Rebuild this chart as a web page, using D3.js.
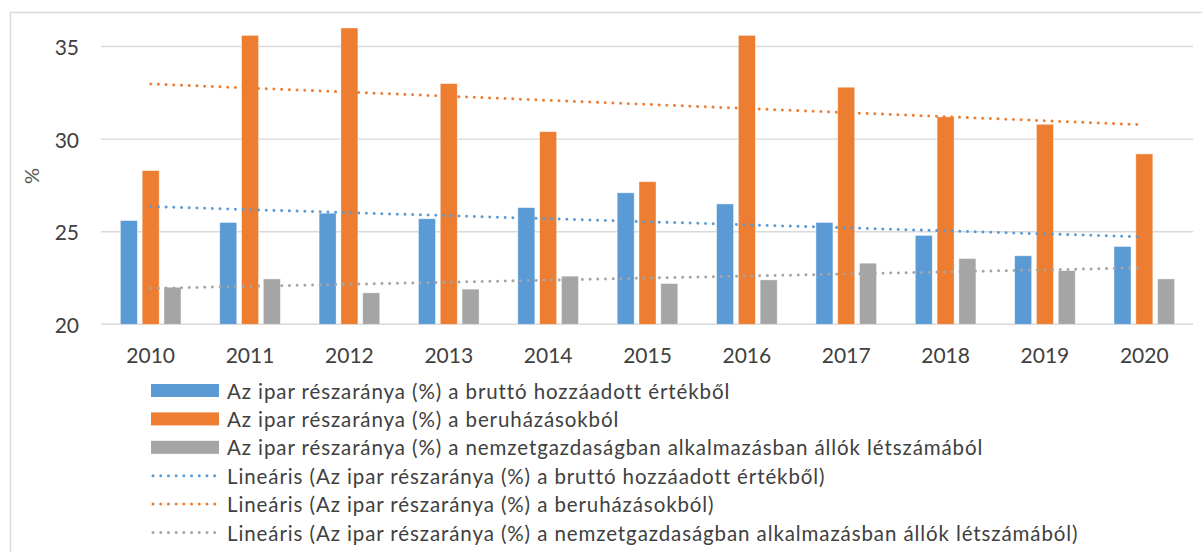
<!DOCTYPE html>
<html>
<head>
<meta charset="utf-8">
<script src="https://cdn.jsdelivr.net/npm/d3@7"></script>
<style>
  html, body { margin: 0; padding: 0; background: #fff; }
  svg { display: block; }
  text { font-family: Lato, "Liberation Sans", sans-serif; }
</style>
</head>
<body>
<svg id="chart" width="1202" height="552"></svg>
<script>
// ---- data ----
const categories = ["2010","2011","2012","2013","2014","2015","2016","2017","2018","2019","2020"];
const seriesNames = [
  "Az ipar részaránya (%) a bruttó hozzáadott értékből",
  "Az ipar részaránya (%) a beruházásokból",
  "Az ipar részaránya (%) a nemzetgazdaságban alkalmazásban állók létszámából"
];
const bruttoValues   = [25.6, 25.5, 26.0, 25.7, 26.3, 27.1, 26.5, 25.5, 24.8, 23.7, 24.2];
const beruhazValues  = [28.3, 35.6, 36.0, 33.0, 30.4, 27.7, 35.6, 32.8, 31.2, 30.8, 29.2];
const letszamValues  = [22.0, 22.45, 21.7, 21.9, 22.6, 22.2, 22.4, 23.3, 23.55, 22.9, 22.45];
const yTicks = [20, 25, 30, 35];
const trendPrefix = "Lineáris";
const yAxisTitle = "%";
const colors = ["#5B9BD5", "#ED7D31", "#A5A5A5"];

const seriesValues = [bruttoValues, beruhazValues, letszamValues];

const svg = d3.select("#chart");

// outer chart border
svg.append("rect")
  .attr("x", 10.5).attr("y", 12.5)
  .attr("width", 1400).attr("height", 700)
  .attr("fill", "none").attr("stroke", "#d9d9d9").attr("stroke-width", 1.5);

const x0 = d3.scaleBand().domain(categories).range([101, 1194]).padding(0);
const x1 = d3.scaleBand().domain(d3.range(seriesNames.length))
  .range([-32.7, 32.7]).paddingInner(0.22).paddingOuter(0.11);
const y = d3.scaleLinear().domain([20, 35]).range([324.3, 46.5]);

// gridlines
svg.append("g").selectAll("line").data(yTicks).join("line")
  .attr("x1", 101).attr("x2", 1193)
  .attr("y1", d => y(d)).attr("y2", d => y(d))
  .attr("stroke", "#d9d9d9").attr("stroke-width", 1.4);

// y tick labels
svg.append("g").selectAll("text").data(yTicks).join("text")
  .attr("x", 79).attr("y", d => y(d))
  .attr("text-anchor", "end").attr("dominant-baseline", "central")
  .attr("font-size", 21).attr("fill", "#404040")
  .text(d => d);

// y axis title
svg.append("text")
  .attr("transform", "translate(31,176) rotate(-90)")
  .attr("text-anchor", "middle").attr("dominant-baseline", "central")
  .attr("font-size", 20).attr("fill", "#595959")
  .text(yAxisTitle);

// x tick labels
svg.append("g").selectAll("text").data(categories).join("text")
  .attr("x", d => x0(d) + x0.bandwidth() / 2).attr("y", 363)
  .attr("text-anchor", "middle")
  .attr("font-size", 21).attr("fill", "#404040")
  .text(d => d);

// bars
seriesValues.forEach((vals, si) => {
  svg.append("g").selectAll("rect").data(vals).join("rect")
    .attr("x", (d, i) => x0(categories[i]) + x0.bandwidth() / 2 + x1(si))
    .attr("width", x1.bandwidth())
    .attr("y", d => y(d))
    .attr("height", d => y(20) - y(d))
    .attr("fill", colors[si])
    .attr("stroke", "#ffffff").attr("stroke-opacity", 0.5).attr("stroke-width", 0.8);
});

// linear trend lines (least squares on series values)
function linearFit(vals) {
  const n = vals.length;
  const xs = d3.range(n);
  const mx = d3.mean(xs), my = d3.mean(vals);
  let sxy = 0, sxx = 0;
  xs.forEach((xv, i) => { sxy += (xv - mx) * (vals[i] - my); sxx += (xv - mx) * (xv - mx); });
  const b = sxy / sxx, a = my - b * mx;
  return xs.map(xv => a + b * xv);
}
const cx = c => x0(c) + x0.bandwidth() / 2;
const line = d3.line().x((d, i) => cx(categories[i])).y(d => y(d));
seriesValues.forEach((vals, si) => {
  svg.append("path")
    .datum(linearFit(vals))
    .attr("d", line)
    .attr("fill", "none")
    .attr("stroke", colors[si])
    .attr("stroke-width", 3)
    .attr("stroke-linecap", "round")
    .attr("stroke-dasharray", "0.01 7.7");
});

// legend
const legendItems = [
  ...seriesNames.map((s, i) => ({ label: s, type: "bar", color: colors[i] })),
  ...seriesNames.map((s, i) => ({ label: trendPrefix + " (" + s + ")", type: "line", color: colors[i] }))
];
const lg = svg.append("g").selectAll("g").data(legendItems).join("g")
  .attr("transform", (d, i) => `translate(0, ${390.5 + i * 28.4})`);
lg.filter(d => d.type === "bar").append("rect")
  .attr("x", 151).attr("y", -6.5).attr("width", 68).attr("height", 13)
  .attr("fill", d => d.color);
lg.filter(d => d.type === "line").append("line")
  .attr("x1", 153).attr("x2", 218).attr("y1", 0).attr("y2", 0)
  .attr("stroke", d => d.color).attr("stroke-width", 3)
  .attr("stroke-linecap", "round").attr("stroke-dasharray", "0.01 7.7");
lg.append("text")
  .attr("x", 227).attr("y", 0)
  .attr("dominant-baseline", "central")
  .attr("font-size", 20.5).attr("letter-spacing", 0.9).attr("fill", "#404040")
  .text(d => d.label);
</script>
</body>
</html>
